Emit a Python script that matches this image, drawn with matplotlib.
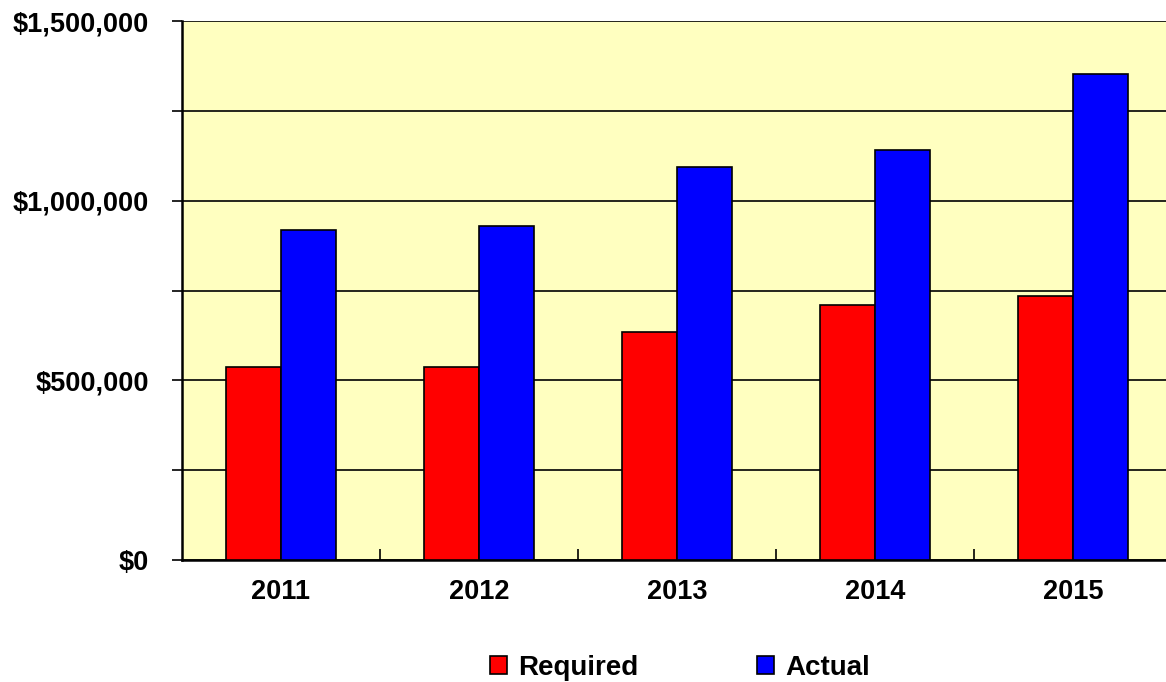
import matplotlib.pyplot as plt
import numpy as np
from matplotlib.ticker import FuncFormatter, MultipleLocator

plt.rcParams['font.family'] = ['Liberation Sans', 'DejaVu Sans']
plt.rcParams['font.weight'] = 'bold'

years = ['2011', '2012', '2013', '2014', '2015']
required = [537000, 537000, 635000, 710000, 735000]
actual = [918000, 930000, 1094000, 1141000, 1353000]

W, H = 1166, 682
fig = plt.figure(figsize=(W / 100, H / 100), dpi=100)
ax = fig.add_axes([182 / W, 1 - 560 / H, (W - 182) / W, (560 - 21) / H])
ax.set_facecolor('#FFFFC0')

x = np.arange(len(years))
bw = 0.28
ax.bar(x - bw / 2, required, bw, color='#FF0000', edgecolor='black', linewidth=1.2,
       label='Required', zorder=3)
ax.bar(x + bw / 2, actual, bw, color='#0000FF', edgecolor='black', linewidth=1.2,
       label='Actual', zorder=3)

ax.set_xlim(-0.5, 4.47)
ax.set_ylim(0, 1500000)
ax.yaxis.set_major_locator(MultipleLocator(500000))
ax.yaxis.set_minor_locator(MultipleLocator(250000))
ax.yaxis.set_major_formatter(FuncFormatter(lambda v, p: f'${v:,.0f}'))
ax.grid(axis='y', which='both', color='black', linewidth=1.2, zorder=1)
ax.set_axisbelow(True)

ax.set_xticks(x)
ax.set_xticklabels(years)
ax.set_xticks(np.arange(0.5, 4.5, 1), minor=True)
ax.tick_params(axis='x', which='major', length=0, pad=14, labelsize=19.5)
ax.tick_params(axis='x', which='minor', direction='in', length=8, width=1.2)
ax.tick_params(axis='y', which='both', direction='out', length=7, width=1.2,
               labelsize=19.5, pad=17)

for s in ['top', 'right']:
    ax.spines[s].set_visible(False)
ax.spines['left'].set_linewidth(1.8)
ax.spines['bottom'].set_linewidth(1.8)

leg = fig.legend(loc='center', bbox_to_anchor=(680 / W, 1 - 668 / H), ncol=2,
                 frameon=False, fontsize=20, handlelength=0.6, handleheight=0.6,
                 handletextpad=0.4, columnspacing=4.3)

fig.savefig('out.png', dpi=100)
